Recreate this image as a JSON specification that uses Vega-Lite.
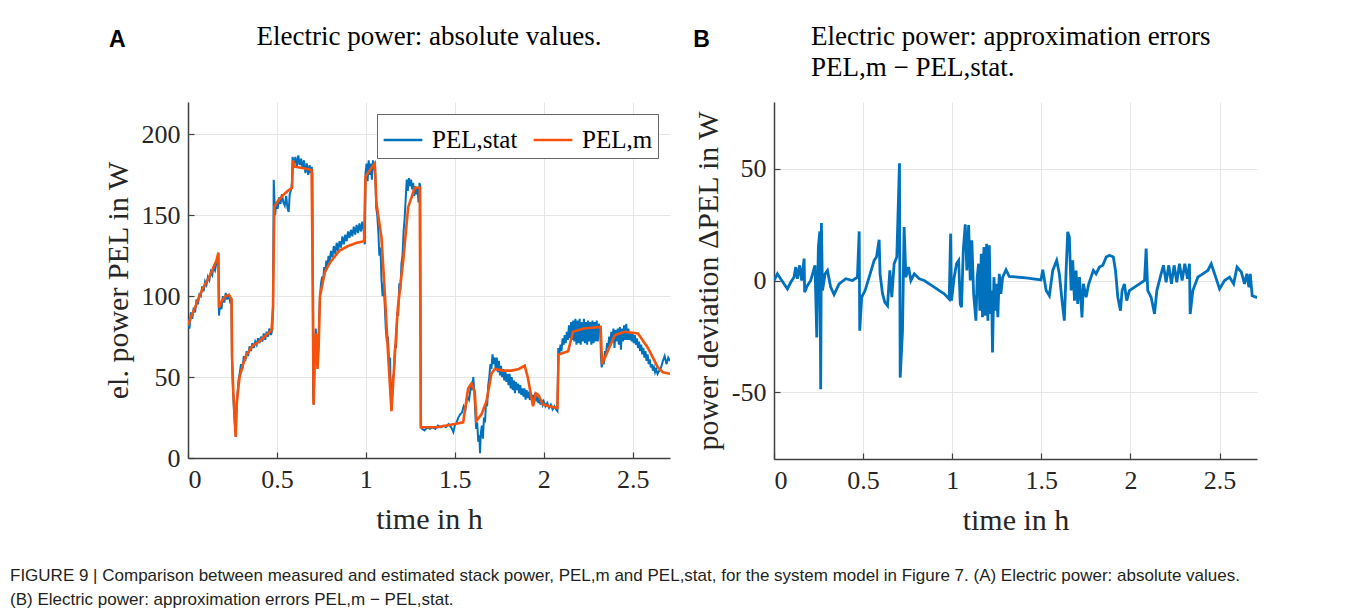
{
  "$schema": "https://vega.github.io/schema/vega-lite/v6.json",
  "background": "white",
  "padding": {"left": 10, "top": 23, "right": 5, "bottom": 0},
  "title": {
    "text": ["FIGURE 9 | Comparison between measured and estimated stack power, PEL,m and PEL,stat, for the system model in Figure 7. (A) Electric power: absolute values.", "(B) Electric power: approximation errors PEL,m − PEL,stat."],
    "orient": "bottom", "anchor": "start", "frame": "bounds", "dx": -93,
    "font": "Liberation Sans", "fontSize": 17, "fontWeight": "normal", "lineHeight": 24, "color": "#231F20", "offset": 33
  },
  "config": {
    "view": {"stroke": null},
    "axis": {
      "labelFont": "Liberation Serif", "labelFontSize": 26, "labelColor": "#262626",
      "titleFont": "Liberation Serif", "titleFontSize": 30, "titleFontWeight": "normal", "titleColor": "#262626",
      "domainColor": "#404040", "domainWidth": 1.5, "tickColor": "#404040", "tickSize": -6, "tickWidth": 1.2,
      "gridColor": "#E6E6E6", "gridWidth": 1, "labelPadding": 14
    },
    "title": {"font": "Liberation Serif", "fontSize": 27, "fontWeight": "normal", "color": "#000000"}
  },
  "resolve": {"scale": {"color": "independent"}, "legend": {"color": "independent"}},
  "datasets": {
    "stat": [
      {"t":0.000,"p":86},{"t":0.008,"p":80},{"t":0.016,"p":90},{"t":0.024,"p":86},{"t":0.032,"p":93},{"t":0.040,"p":90},{"t":0.048,"p":98},{"t":0.056,"p":95},{"t":0.064,"p":101},{"t":0.072,"p":100},{"t":0.080,"p":106},{"t":0.088,"p":103},{"t":0.096,"p":109},{"t":0.104,"p":107},{"t":0.112,"p":112},{"t":0.120,"p":110},{"t":0.128,"p":115},{"t":0.136,"p":113},{"t":0.144,"p":118},{"t":0.152,"p":116},{"t":0.160,"p":121},{"t":0.168,"p":119},{"t":0.171,"p":124},{"t":0.174,"p":88},{"t":0.180,"p":95},{"t":0.188,"p":92},{"t":0.196,"p":100},{"t":0.204,"p":96},{"t":0.212,"p":102},{"t":0.220,"p":98},{"t":0.228,"p":101},{"t":0.236,"p":97},{"t":0.244,"p":99},{"t":0.247,"p":62},{"t":0.252,"p":45},{"t":0.258,"p":30},{"t":0.264,"p":20},{"t":0.268,"p":14},{"t":0.272,"p":30},{"t":0.278,"p":40},{"t":0.284,"p":48},{"t":0.290,"p":52},{"t":0.298,"p":58},{"t":0.306,"p":55},{"t":0.314,"p":63},{"t":0.322,"p":60},{"t":0.330,"p":66},{"t":0.338,"p":63},{"t":0.346,"p":69},{"t":0.354,"p":66},{"t":0.362,"p":71},{"t":0.370,"p":68},{"t":0.378,"p":72},{"t":0.386,"p":70},{"t":0.394,"p":74},{"t":0.402,"p":71},{"t":0.410,"p":75},{"t":0.418,"p":72},{"t":0.426,"p":77},{"t":0.434,"p":73},{"t":0.442,"p":78},{"t":0.450,"p":75},{"t":0.458,"p":80},{"t":0.466,"p":76},{"t":0.474,"p":79},{"t":0.478,"p":95},{"t":0.482,"p":172},{"t":0.486,"p":160},{"t":0.490,"p":150},{"t":0.496,"p":158},{"t":0.504,"p":154},{"t":0.512,"p":161},{"t":0.520,"p":157},{"t":0.528,"p":163},{"t":0.536,"p":158},{"t":0.544,"p":156},{"t":0.552,"p":162},{"t":0.560,"p":154},{"t":0.566,"p":152},{"t":0.572,"p":163},{"t":0.580,"p":166},{"t":0.584,"p":170},{"t":0.588,"p":186},{"t":0.596,"p":182},{"t":0.604,"p":186},{"t":0.612,"p":180},{"t":0.620,"p":187},{"t":0.628,"p":181},{"t":0.636,"p":185},{"t":0.644,"p":179},{"t":0.652,"p":184},{"t":0.660,"p":176},{"t":0.668,"p":182},{"t":0.676,"p":175},{"t":0.684,"p":181},{"t":0.690,"p":176},{"t":0.696,"p":180},{"t":0.700,"p":175},{"t":0.703,"p":40},{"t":0.707,"p":33},{"t":0.712,"p":60},{"t":0.718,"p":80},{"t":0.724,"p":70},{"t":0.730,"p":58},{"t":0.736,"p":80},{"t":0.742,"p":100},{"t":0.748,"p":108},{"t":0.754,"p":112},{"t":0.760,"p":110},{"t":0.766,"p":118},{"t":0.772,"p":115},{"t":0.778,"p":122},{"t":0.784,"p":118},{"t":0.790,"p":125},{"t":0.796,"p":121},{"t":0.804,"p":128},{"t":0.812,"p":124},{"t":0.820,"p":131},{"t":0.828,"p":126},{"t":0.836,"p":133},{"t":0.844,"p":128},{"t":0.852,"p":134},{"t":0.860,"p":130},{"t":0.868,"p":137},{"t":0.876,"p":132},{"t":0.884,"p":138},{"t":0.892,"p":134},{"t":0.900,"p":140},{"t":0.908,"p":136},{"t":0.916,"p":141},{"t":0.924,"p":137},{"t":0.932,"p":143},{"t":0.940,"p":138},{"t":0.948,"p":144},{"t":0.956,"p":139},{"t":0.964,"p":145},{"t":0.972,"p":140},{"t":0.980,"p":146},{"t":0.988,"p":140},{"t":0.994,"p":132},{"t":0.998,"p":176},{"t":1.004,"p":182},{"t":1.010,"p":171},{"t":1.016,"p":184},{"t":1.022,"p":175},{"t":1.028,"p":182},{"t":1.034,"p":172},{"t":1.040,"p":184},{"t":1.046,"p":178},{"t":1.052,"p":180},{"t":1.058,"p":155},{"t":1.064,"p":150},{"t":1.070,"p":140},{"t":1.076,"p":125},{"t":1.082,"p":130},{"t":1.088,"p":110},{"t":1.094,"p":100},{"t":1.100,"p":108},{"t":1.106,"p":95},{"t":1.112,"p":80},{"t":1.118,"p":72},{"t":1.124,"p":75},{"t":1.130,"p":60},{"t":1.136,"p":62},{"t":1.140,"p":40},{"t":1.144,"p":30},{"t":1.148,"p":38},{"t":1.152,"p":50},{"t":1.158,"p":52},{"t":1.164,"p":70},{"t":1.170,"p":68},{"t":1.176,"p":90},{"t":1.182,"p":88},{"t":1.188,"p":108},{"t":1.194,"p":104},{"t":1.200,"p":120},{"t":1.206,"p":125},{"t":1.212,"p":140},{"t":1.218,"p":148},{"t":1.224,"p":160},{"t":1.230,"p":172},{"t":1.236,"p":165},{"t":1.242,"p":173},{"t":1.248,"p":168},{"t":1.254,"p":172},{"t":1.260,"p":166},{"t":1.266,"p":170},{"t":1.272,"p":162},{"t":1.278,"p":168},{"t":1.284,"p":163},{"t":1.290,"p":167},{"t":1.296,"p":158},{"t":1.302,"p":170},{"t":1.306,"p":168},{"t":1.309,"p":20},{"t":1.316,"p":18},{"t":1.330,"p":17},{"t":1.345,"p":19},{"t":1.360,"p":18},{"t":1.375,"p":19},{"t":1.390,"p":18},{"t":1.405,"p":20},{"t":1.420,"p":19},{"t":1.435,"p":20},{"t":1.450,"p":19},{"t":1.465,"p":21},{"t":1.480,"p":19},{"t":1.492,"p":16},{"t":1.500,"p":20},{"t":1.510,"p":22},{"t":1.520,"p":25},{"t":1.530,"p":27},{"t":1.540,"p":28},{"t":1.550,"p":32},{"t":1.560,"p":30},{"t":1.570,"p":38},{"t":1.580,"p":36},{"t":1.590,"p":44},{"t":1.598,"p":42},{"t":1.604,"p":50},{"t":1.610,"p":40},{"t":1.614,"p":30},{"t":1.620,"p":18},{"t":1.626,"p":22},{"t":1.632,"p":10},{"t":1.638,"p":14},{"t":1.642,"p":3},{"t":1.646,"p":15},{"t":1.652,"p":20},{"t":1.658,"p":12},{"t":1.664,"p":25},{"t":1.670,"p":22},{"t":1.676,"p":35},{"t":1.682,"p":32},{"t":1.688,"p":45},{"t":1.694,"p":50},{"t":1.700,"p":58},{"t":1.706,"p":55},{"t":1.712,"p":64},{"t":1.718,"p":58},{"t":1.724,"p":62},{"t":1.730,"p":55},{"t":1.736,"p":62},{"t":1.742,"p":53},{"t":1.748,"p":60},{"t":1.754,"p":51},{"t":1.760,"p":57},{"t":1.766,"p":50},{"t":1.772,"p":55},{"t":1.778,"p":48},{"t":1.784,"p":54},{"t":1.790,"p":47},{"t":1.796,"p":52},{"t":1.802,"p":45},{"t":1.808,"p":52},{"t":1.814,"p":43},{"t":1.820,"p":50},{"t":1.826,"p":42},{"t":1.832,"p":48},{"t":1.838,"p":40},{"t":1.844,"p":47},{"t":1.850,"p":42},{"t":1.856,"p":46},{"t":1.862,"p":40},{"t":1.868,"p":45},{"t":1.874,"p":39},{"t":1.880,"p":43},{"t":1.886,"p":38},{"t":1.892,"p":43},{"t":1.898,"p":36},{"t":1.904,"p":42},{"t":1.910,"p":37},{"t":1.916,"p":41},{"t":1.922,"p":36},{"t":1.928,"p":40},{"t":1.934,"p":35},{"t":1.940,"p":39},{"t":1.946,"p":36},{"t":1.952,"p":40},{"t":1.958,"p":35},{"t":1.964,"p":38},{"t":1.970,"p":34},{"t":1.976,"p":37},{"t":1.982,"p":33},{"t":1.988,"p":36},{"t":1.994,"p":33},{"t":2.000,"p":35},{"t":2.010,"p":32},{"t":2.020,"p":34},{"t":2.030,"p":31},{"t":2.040,"p":33},{"t":2.050,"p":30},{"t":2.060,"p":32},{"t":2.070,"p":30},{"t":2.077,"p":29},{"t":2.082,"p":68},{"t":2.088,"p":64},{"t":2.094,"p":70},{"t":2.100,"p":66},{"t":2.106,"p":74},{"t":2.112,"p":70},{"t":2.118,"p":76},{"t":2.124,"p":71},{"t":2.130,"p":78},{"t":2.136,"p":73},{"t":2.142,"p":82},{"t":2.148,"p":74},{"t":2.154,"p":84},{"t":2.160,"p":73},{"t":2.166,"p":85},{"t":2.172,"p":72},{"t":2.178,"p":86},{"t":2.184,"p":70},{"t":2.190,"p":85},{"t":2.196,"p":71},{"t":2.202,"p":86},{"t":2.208,"p":70},{"t":2.214,"p":84},{"t":2.220,"p":72},{"t":2.226,"p":86},{"t":2.232,"p":71},{"t":2.238,"p":84},{"t":2.244,"p":70},{"t":2.250,"p":85},{"t":2.256,"p":72},{"t":2.262,"p":84},{"t":2.268,"p":70},{"t":2.274,"p":85},{"t":2.280,"p":71},{"t":2.286,"p":84},{"t":2.292,"p":72},{"t":2.298,"p":85},{"t":2.304,"p":72},{"t":2.310,"p":83},{"t":2.318,"p":78},{"t":2.322,"p":62},{"t":2.326,"p":56},{"t":2.332,"p":60},{"t":2.338,"p":58},{"t":2.344,"p":66},{"t":2.350,"p":64},{"t":2.356,"p":71},{"t":2.362,"p":68},{"t":2.368,"p":75},{"t":2.374,"p":70},{"t":2.380,"p":78},{"t":2.386,"p":72},{"t":2.392,"p":80},{"t":2.398,"p":68},{"t":2.404,"p":79},{"t":2.410,"p":72},{"t":2.416,"p":80},{"t":2.422,"p":70},{"t":2.428,"p":81},{"t":2.434,"p":67},{"t":2.440,"p":80},{"t":2.446,"p":72},{"t":2.452,"p":82},{"t":2.458,"p":73},{"t":2.464,"p":83},{"t":2.470,"p":73},{"t":2.476,"p":80},{"t":2.482,"p":73},{"t":2.488,"p":78},{"t":2.494,"p":72},{"t":2.500,"p":77},{"t":2.506,"p":71},{"t":2.512,"p":76},{"t":2.518,"p":70},{"t":2.524,"p":74},{"t":2.530,"p":68},{"t":2.536,"p":72},{"t":2.542,"p":66},{"t":2.548,"p":70},{"t":2.554,"p":64},{"t":2.560,"p":68},{"t":2.566,"p":62},{"t":2.572,"p":66},{"t":2.578,"p":60},{"t":2.584,"p":64},{"t":2.590,"p":58},{"t":2.596,"p":61},{"t":2.602,"p":56},{"t":2.608,"p":58},{"t":2.614,"p":54},{"t":2.620,"p":56},{"t":2.626,"p":53},{"t":2.632,"p":55},{"t":2.640,"p":52},{"t":2.650,"p":54},{"t":2.660,"p":56},{"t":2.670,"p":60},{"t":2.680,"p":63},{"t":2.690,"p":58},{"t":2.700,"p":62},{"t":2.710,"p":60}
    ],
    "meas": [
      {"t":0,"p":82},{"t":0.01,"p":85},{"t":0.02,"p":88},{"t":0.04,"p":93},{"t":0.06,"p":99},{"t":0.08,"p":104},{"t":0.1,"p":108},{"t":0.12,"p":112},{"t":0.14,"p":117},{"t":0.16,"p":122},{"t":0.171,"p":127},{"t":0.174,"p":93},{"t":0.19,"p":97},{"t":0.21,"p":100},{"t":0.23,"p":101},{"t":0.245,"p":98},{"t":0.248,"p":62},{"t":0.255,"p":40},{"t":0.262,"p":27},{"t":0.268,"p":13},{"t":0.275,"p":35},{"t":0.29,"p":50},{"t":0.31,"p":58},{"t":0.33,"p":64},{"t":0.36,"p":69},{"t":0.4,"p":72},{"t":0.44,"p":76},{"t":0.47,"p":79},{"t":0.478,"p":93},{"t":0.485,"p":155},{"t":0.5,"p":158},{"t":0.53,"p":162},{"t":0.56,"p":165},{"t":0.585,"p":167},{"t":0.59,"p":184},{"t":0.6,"p":180},{"t":0.65,"p":179},{"t":0.695,"p":178},{"t":0.703,"p":90},{"t":0.706,"p":33},{"t":0.712,"p":60},{"t":0.72,"p":77},{"t":0.728,"p":55},{"t":0.735,"p":70},{"t":0.742,"p":100},{"t":0.77,"p":115},{"t":0.8,"p":121},{"t":0.85,"p":128},{"t":0.9,"p":131},{"t":0.95,"p":133},{"t":0.99,"p":134},{"t":0.998,"p":174},{"t":1.03,"p":179},{"t":1.05,"p":182},{"t":1.06,"p":157},{"t":1.088,"p":136},{"t":1.107,"p":101},{"t":1.125,"p":64},{"t":1.144,"p":29},{"t":1.163,"p":64},{"t":1.18,"p":93},{"t":1.21,"p":122},{"t":1.238,"p":155},{"t":1.275,"p":167},{"t":1.303,"p":167},{"t":1.309,"p":19},{"t":1.33,"p":19},{"t":1.4,"p":19},{"t":1.5,"p":21},{"t":1.547,"p":22},{"t":1.575,"p":43},{"t":1.594,"p":46},{"t":1.612,"p":41},{"t":1.622,"p":23},{"t":1.65,"p":27},{"t":1.678,"p":35},{"t":1.706,"p":52},{"t":1.725,"p":55},{"t":1.77,"p":54},{"t":1.82,"p":54},{"t":1.86,"p":55},{"t":1.893,"p":57},{"t":1.91,"p":50},{"t":1.94,"p":32},{"t":1.955,"p":40},{"t":1.97,"p":39},{"t":1.996,"p":33},{"t":2.03,"p":32},{"t":2.077,"p":31},{"t":2.084,"p":64},{"t":2.137,"p":66},{"t":2.165,"p":78},{"t":2.224,"p":80},{"t":2.32,"p":81},{"t":2.328,"p":58},{"t":2.36,"p":66},{"t":2.4,"p":76},{"t":2.455,"p":78},{"t":2.53,"p":77},{"t":2.586,"p":68},{"t":2.642,"p":56},{"t":2.67,"p":53},{"t":2.71,"p":52}
    ],
    "dev": [
      {"t":0.000,"d":0},{"t":0.019,"d":3.0},{"t":0.037,"d":0.8},{"t":0.056,"d":-1.5},{"t":0.075,"d":-3.8},{"t":0.094,"d":-0.8},{"t":0.112,"d":1.5},{"t":0.122,"d":6.0},{"t":0.131,"d":0.8},{"t":0.144,"d":6.8},{"t":0.155,"d":0},{"t":0.169,"d":9.8},{"t":0.172,"d":-5.3},{"t":0.187,"d":-2.3},{"t":0.206,"d":0},{"t":0.230,"d":6.8},{"t":0.240,"d":-25.5},{"t":0.249,"d":15},{"t":0.257,"d":22},{"t":0.262,"d":-48.7},{"t":0.266,"d":25.8},{"t":0.272,"d":-4.5},{"t":0.287,"d":3},{"t":0.300,"d":4.5},{"t":0.318,"d":-3},{"t":0.337,"d":-6.3},{"t":0.365,"d":-1.5},{"t":0.403,"d":0.8},{"t":0.440,"d":0},{"t":0.468,"d":1.5},{"t":0.478,"d":22},{"t":0.481,"d":-22.5},{"t":0.492,"d":-7.5},{"t":0.511,"d":-4.5},{"t":0.534,"d":1.5},{"t":0.562,"d":9},{"t":0.575,"d":10.5},{"t":0.590,"d":18.3},{"t":0.595,"d":3},{"t":0.609,"d":-6},{"t":0.622,"d":-9.8},{"t":0.637,"d":-11.3},{"t":0.650,"d":4.5},{"t":0.661,"d":-7.5},{"t":0.674,"d":7.5},{"t":0.689,"d":10.5},{"t":0.704,"d":52.5},{"t":0.708,"d":-43.5},{"t":0.721,"d":-22.5},{"t":0.730,"d":24},{"t":0.740,"d":1.5},{"t":0.755,"d":6},{"t":0.768,"d":0},{"t":0.787,"d":3},{"t":0.815,"d":0.8},{"t":0.843,"d":0},{"t":0.871,"d":-1.5},{"t":0.899,"d":-3},{"t":0.927,"d":-4.5},{"t":0.955,"d":-6},{"t":0.983,"d":-8.3},{"t":0.991,"d":21},{"t":0.996,"d":-9},{"t":1.011,"d":1.5},{"t":1.024,"d":7.5},{"t":1.036,"d":9},{"t":1.045,"d":-10.5},{"t":1.052,"d":-12},{"t":1.062,"d":13.5},{"t":1.073,"d":25.2},{"t":1.082,"d":4.5},{"t":1.092,"d":24.8},{"t":1.101,"d":0},{"t":1.110,"d":18},{"t":1.120,"d":-6},{"t":1.133,"d":-18},{"t":1.140,"d":1.5},{"t":1.148,"d":7.5},{"t":1.155,"d":-13.5},{"t":1.163,"d":12},{"t":1.170,"d":-16.5},{"t":1.178,"d":15},{"t":1.185,"d":-15.8},{"t":1.193,"d":16.5},{"t":1.200,"d":-18},{"t":1.208,"d":15.8},{"t":1.215,"d":-15},{"t":1.221,"d":-4.5},{"t":1.226,"d":-32.3},{"t":1.234,"d":1.5},{"t":1.241,"d":-13.5},{"t":1.249,"d":-1.5},{"t":1.256,"d":-16.5},{"t":1.264,"d":3},{"t":1.273,"d":-6},{"t":1.283,"d":1.5},{"t":1.302,"d":4.8},{"t":1.320,"d":1.8},{"t":1.414,"d":1.2},{"t":1.498,"d":0.3},{"t":1.508,"d":4.8},{"t":1.527,"d":-4.5},{"t":1.545,"d":-6.8},{"t":1.564,"d":4.5},{"t":1.586,"d":9},{"t":1.601,"d":3},{"t":1.616,"d":-9},{"t":1.629,"d":-18},{"t":1.639,"d":4.5},{"t":1.648,"d":21.8},{"t":1.657,"d":19.5},{"t":1.667,"d":-4.5},{"t":1.676,"d":9},{"t":1.686,"d":-9},{"t":1.695,"d":4.5},{"t":1.704,"d":-10.5},{"t":1.714,"d":1.5},{"t":1.728,"d":-16.5},{"t":1.736,"d":-1.5},{"t":1.751,"d":-7.5},{"t":1.766,"d":-1.5},{"t":1.779,"d":1.5},{"t":1.792,"d":4.5},{"t":1.807,"d":3},{"t":1.826,"d":6},{"t":1.845,"d":6.8},{"t":1.864,"d":10.5},{"t":1.882,"d":11.3},{"t":1.904,"d":10.5},{"t":1.916,"d":4.5},{"t":1.929,"d":-7.5},{"t":1.944,"d":-13.5},{"t":1.953,"d":-4.5},{"t":1.966,"d":-1.5},{"t":1.979,"d":-9},{"t":1.994,"d":-4.5},{"t":2.023,"d":-3},{"t":2.051,"d":-1.5},{"t":2.079,"d":0},{"t":2.088,"d":14.3},{"t":2.097,"d":-4.5},{"t":2.116,"d":-7.5},{"t":2.135,"d":-15},{"t":2.148,"d":-4.5},{"t":2.172,"d":3},{"t":2.185,"d":6.8},{"t":2.200,"d":-0.8},{"t":2.215,"d":6.8},{"t":2.230,"d":-1.5},{"t":2.245,"d":6.8},{"t":2.260,"d":-0.8},{"t":2.275,"d":7.5},{"t":2.290,"d":0},{"t":2.305,"d":7.5},{"t":2.320,"d":0.8},{"t":2.331,"d":7.5},{"t":2.335,"d":-15},{"t":2.350,"d":-4.5},{"t":2.378,"d":1.5},{"t":2.406,"d":3},{"t":2.434,"d":4.5},{"t":2.453,"d":7.5},{"t":2.472,"d":3},{"t":2.500,"d":-3.8},{"t":2.528,"d":0},{"t":2.556,"d":1.5},{"t":2.579,"d":-1.5},{"t":2.598,"d":6},{"t":2.622,"d":3.8},{"t":2.640,"d":-1.5},{"t":2.653,"d":3},{"t":2.665,"d":-3},{"t":2.672,"d":3},{"t":2.683,"d":-6.8},{"t":2.706,"d":-7.5},{"t":2.710,"d":-7.5}
    ]
  },
  "hconcat": [
    {
      "title": {"text": "A", "anchor": "start", "font": "Liberation Sans", "fontWeight": "bold", "fontSize": 23, "dy": 33, "dx": 6},
      "resolve": {"scale": {"color": "independent"}, "legend": {"color": "independent"}},
      "vconcat": [
        {
          "width": 482, "height": 356,
          "title": {"text": ["Electric power: absolute values.", " "], "anchor": "middle", "frame": "group", "lineHeight": 31, "offset": 20},
          "layer": [
            {
              "data": {"name": "stat"},
              "mark": {"type": "line", "strokeWidth": 2, "clip": true},
              "encoding": {
                "x": {"field": "t", "type": "quantitative", "scale": {"domain": [0, 2.71], "nice": false, "zero": false}, "axis": {"values": [0, 0.5, 1, 1.5, 2, 2.5], "labelExpr": "toString(datum.value)", "title": "time in h", "titlePadding": 12}},
                "y": {"field": "p", "type": "quantitative", "scale": {"domain": [0, 220], "nice": false}, "axis": {"values": [0, 50, 100, 150, 200], "title": "el. power PEL in W", "titlePadding": 8}},
                "color": {"datum": "PEL,stat", "type": "nominal", "scale": {"domain": ["PEL,stat", "PEL,m"], "range": ["#0072BD", "#F5520C"]},
                  "legend": {"title": null, "orient": "top-right", "offset": 12, "direction": "horizontal", "symbolType": "stroke", "symbolSize": 1500, "symbolStrokeWidth": 2.5, "labelFont": "Liberation Serif", "labelFontSize": 25, "labelColor": "#000000", "strokeColor": "#666666", "fillColor": "white", "padding": 5, "columnPadding": 10, "labelOffset": 8}}
              }
            },
            {
              "data": {"name": "meas"},
              "mark": {"type": "line", "strokeWidth": 2.6, "clip": true},
              "encoding": {
                "x": {"field": "t", "type": "quantitative"},
                "y": {"field": "p", "type": "quantitative"},
                "color": {"datum": "PEL,m", "type": "nominal"}
              }
            }
          ]
        }
      ]
    },
    {
      "title": {"text": "B", "anchor": "start", "font": "Liberation Sans", "fontWeight": "bold", "fontSize": 23, "dy": 33},
      "vconcat": [
        {
          "width": 483, "height": 357,
          "title": {"text": ["Electric power: approximation errors", "PEL,m − PEL,stat."], "anchor": "start", "frame": "group", "dx": 37, "lineHeight": 31, "offset": 20},
          "data": {"name": "dev"},
          "mark": {"type": "line", "strokeWidth": 2.8, "clip": true, "color": "#0072BD"},
          "encoding": {
            "x": {"field": "t", "type": "quantitative", "scale": {"domain": [0, 2.71], "nice": false, "zero": false}, "axis": {"values": [0, 0.5, 1, 1.5, 2, 2.5], "labelExpr": "toString(datum.value)", "title": "time in h", "titlePadding": 12}},
            "y": {"field": "d", "type": "quantitative", "scale": {"domain": [-80, 80], "nice": false}, "axis": {"values": [-50, 0, 50], "labelExpr": "toString(datum.value)", "title": "power deviation ΔPEL in W", "titlePadding": 8}}
          }
        }
      ]
    }
  ],
  "spacing": 23
}
